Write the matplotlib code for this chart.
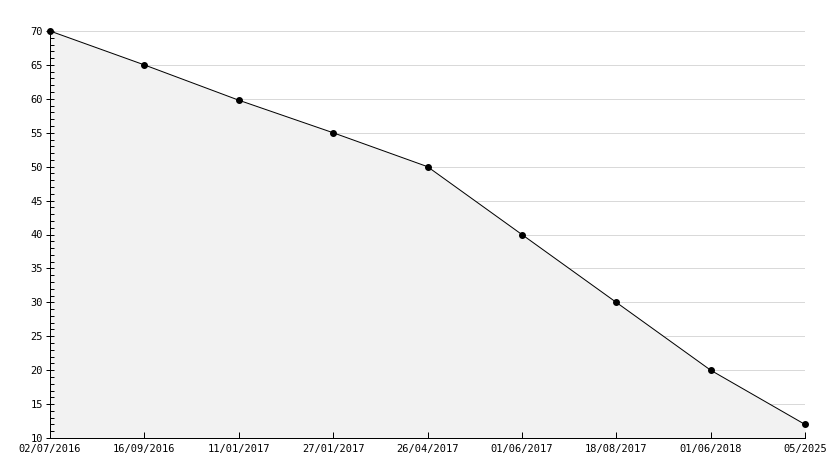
import matplotlib
matplotlib.use('Agg')
import matplotlib.pyplot as plt
from matplotlib.ticker import MultipleLocator

labels = ['02/07/2016', '16/09/2016', '11/01/2017', '27/01/2017', '26/04/2017',
          '01/06/2017', '18/08/2017', '01/06/2018', '05/2025']
values = [70, 65, 59.8, 55, 50, 40, 30, 20, 12]

W, H = 834, 468
px = 0.72  # one pixel in points at 100 dpi
fig = plt.figure(figsize=(W / 100, H / 100), dpi=100)
ax = fig.add_axes([50 / W, (H - 438) / H, (805 - 50) / W, (438 - 31) / H])

x = list(range(len(values)))
ax.fill_between(x, values, 10, color='#f2f2f2', lw=0, zorder=1)
ax.plot(x, values, color='black', lw=px, marker='o', ms=4, zorder=5, clip_on=False)

ax.set_xlim(0, len(values) - 1)
ax.set_ylim(10, 70)
ax.yaxis.set_major_locator(MultipleLocator(5))
ax.yaxis.set_minor_locator(MultipleLocator(1))
ax.set_xticks(x)
ax.set_xticklabels(labels)

for y in range(15, 75, 5):
    ax.axhline(y, color='#d9d9d9', lw=px, zorder=0.5)

for s in ['top', 'right']:
    ax.spines[s].set_visible(False)
for s in ['left', 'bottom']:
    ax.spines[s].set_linewidth(px)
    ax.spines[s].set_zorder(4)

ax.tick_params(axis='y', which='major', direction='inout', length=8 * px, width=px, pad=2, labelsize=7.5)
ax.tick_params(axis='y', which='minor', direction='in', length=4 * px, width=px)
ax.tick_params(axis='x', direction='in', length=6 * px, width=px, pad=4, labelsize=7.5)
for t in ax.get_xticklabels() + ax.get_yticklabels():
    t.set_fontfamily('DejaVu Sans Mono')

fig.savefig('out.png', dpi=100, facecolor='white')
